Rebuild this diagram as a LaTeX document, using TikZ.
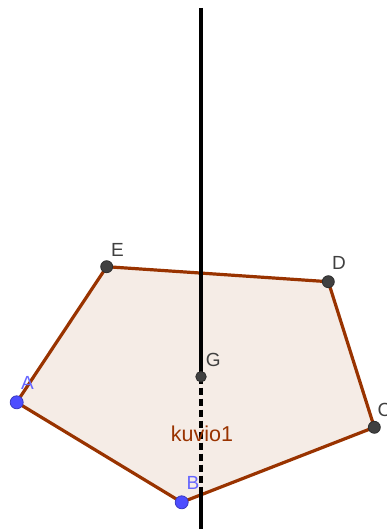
\documentclass[tikz,border=0pt]{standalone}
\usepackage{fontspec}
\setmainfont{Liberation Sans}
\usetikzlibrary{positioning}
\definecolor{edgebrown}{RGB}{153,51,0}
\definecolor{fillbrown}{RGB}{245,236,230}
\definecolor{ptgray}{RGB}{64,64,64}
\definecolor{ptblue}{RGB}{77,77,255}
\definecolor{lblblue}{RGB}{102,102,255}

\begin{document}
\begin{tikzpicture}[
        x=1pt, y=-1pt,
        edge/.style={draw=edgebrown, line width=3.2pt, line join=round, line cap=round},
        axis/.style={draw=black, line width=4pt},
        hidden/.style={draw=black, line width=3.5pt, dash pattern=on 7pt off 4pt},
        freept/.style={circle, fill=ptblue, draw=ptblue!75!black, line width=0.8pt, minimum size=13pt, inner sep=0pt},
        fixpt/.style={circle, fill=ptgray, draw=ptgray!70!black, line width=0.8pt, minimum size=12pt, inner sep=0pt},
        ptlabel/.style={inner sep=0pt, text=ptgray, font=\fontsize{19}{22}\selectfont},
        freelabel/.style={ptlabel, text=lblblue},
        caption/.style={inner sep=0pt, text=edgebrown, font=\fontsize{21.5}{24}\selectfont}
    ]
        \useasboundingbox (0,0) rectangle (387,529);

        \coordinate (A) at (16.7,402.3);
        \coordinate (B) at (181.7,502.3);
        \coordinate (C) at (374.3,427.3);
        \coordinate (D) at (328.3,281.7);
        \coordinate (E) at (106.7,266.7);
        \coordinate (G) at (201,376.7);
        \coordinate (top) at (201,8);
        \coordinate (under) at (201,487);
        \coordinate (bottom) at (201,529);

        % polygon kuvio1
        \fill[fillbrown] (A) -- (B) -- (C) -- (D) -- (E) -- cycle;
        \draw[edge] (A) -- (B) -- (C) -- (D) -- (E) -- cycle;

        % line through G
        \draw[axis] (top) -- (G);
        \draw[hidden] (G) -- (under);
        \draw[axis] (under) -- (bottom);

        \node[freept] (dotA) at (A) {};
        \node[freept] (dotB) at (B) {};
        \node[fixpt] (dotC) at (C) {};
        \node[fixpt] (dotD) at (D) {};
        \node[fixpt] (dotE) at (E) {};
        \node[fixpt, minimum size=10.5pt] (dotG) at (G) {};

        \node[freelabel] (labA) at (27.5,383) {A};
        \node[freelabel] (labB) at (193,482.7) {B};
        \node[ptlabel] (labC) at (384.5,409.5) {C};
        \node[ptlabel] (labD) at (339,263) {D};
        \node[ptlabel] (labE) at (117.5,249.6) {E};
        \node[ptlabel] (labG) at (213.3,359.5) {G};
        \node[caption] (kuvio) at (202,434) {kuvio1};
    \end{tikzpicture}
\end{document}
